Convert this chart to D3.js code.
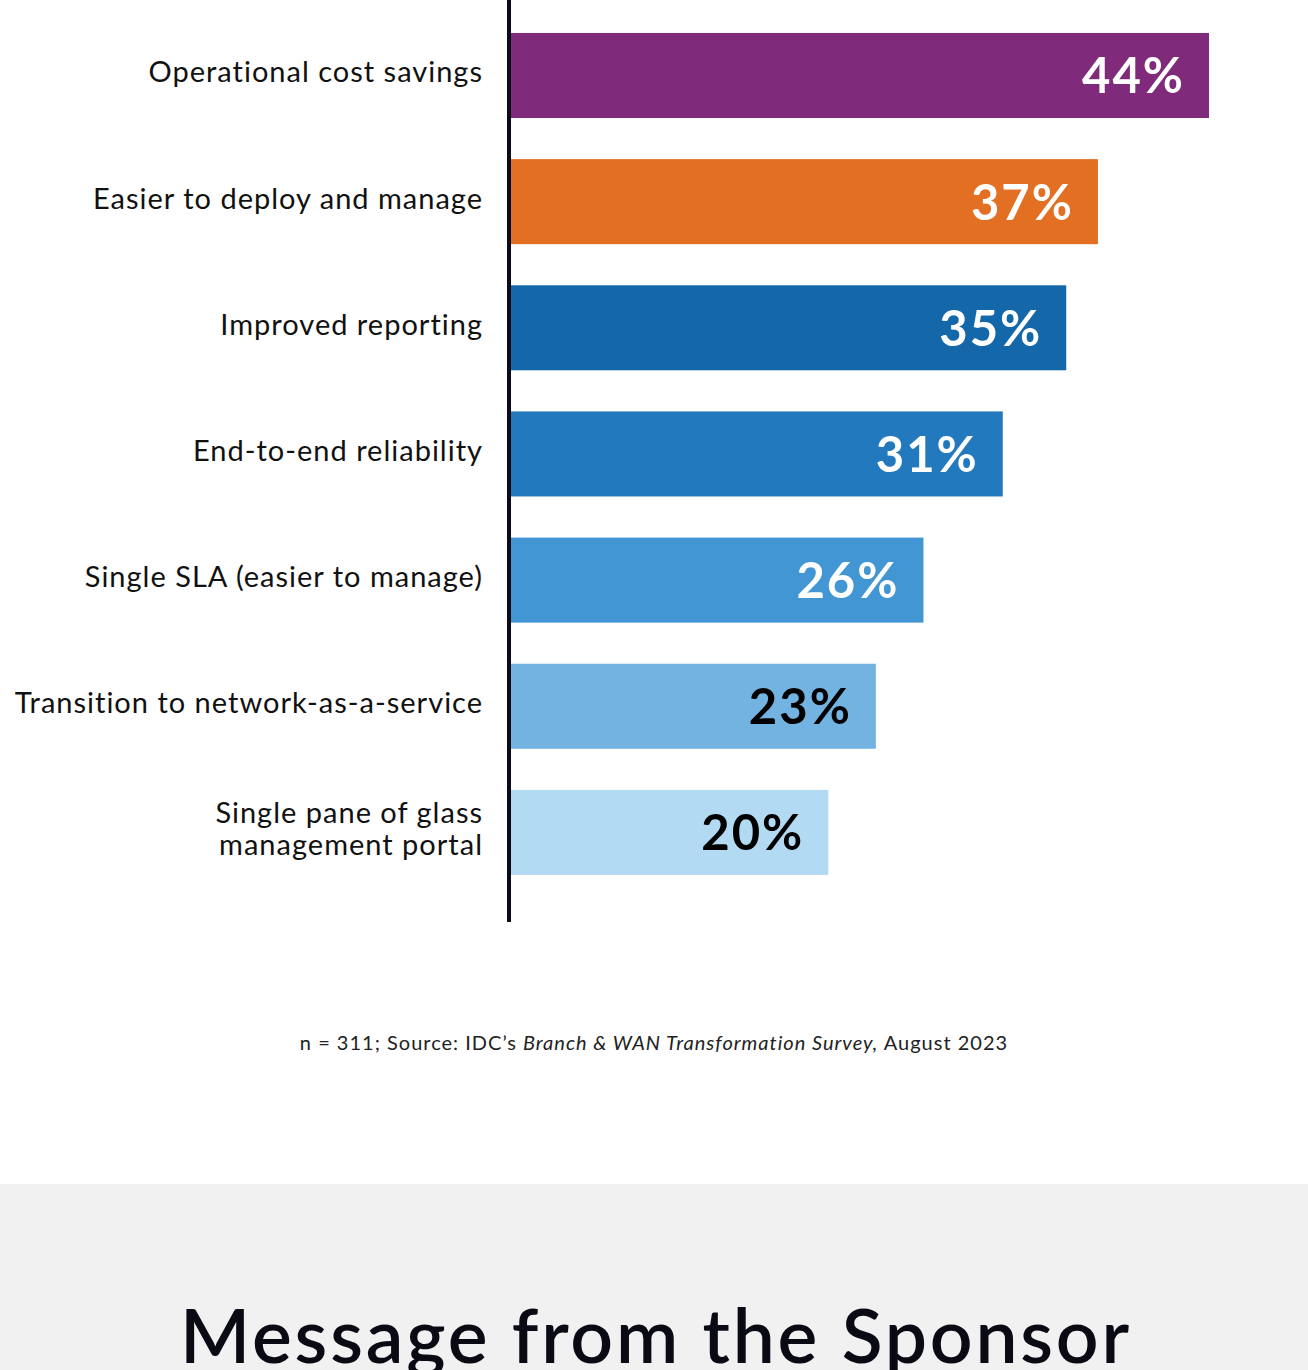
<!DOCTYPE html>
<html>
<head>
<meta charset="utf-8">
<script src="https://cdn.jsdelivr.net/npm/d3@7"></script>
<style>
  html, body { margin: 0; padding: 0; background: #fff; }
  svg { display: block; font-family: "Lato", "Noto Sans", sans-serif; font-variant-ligatures: none; }
</style>
</head>
<body>
<div id="chart"></div>
<script>
// Data
const categories = [
  ["Operational cost savings"],
  ["Easier to deploy and manage"],
  ["Improved reporting"],
  ["End-to-end reliability"],
  ["Single SLA (easier to manage)"],
  ["Transition to network-as-a-service"],
  ["Single pane of glass", "management portal"]
];
const values = [44, 37, 35, 31, 26, 23, 20];
const barColors = ["#7f2a7a", "#e36f22", "#1467a8", "#2279be", "#4296d3", "#72b3e2", "#b3daf3"];
const valueColors = ["#fff", "#fff", "#fff", "#fff", "#fff", "#000", "#000"];

const W = 1308, H = 1370;
const axisX = 511;

const svg = d3.select("#chart")
  .append("svg")
  .attr("width", W)
  .attr("height", H);

const rows = categories.map((c, i) => ({ label: c, value: values[i], idx: i }));

// Scales
const y = d3.scaleBand()
  .domain(rows.map(d => d.idx))
  .range([12.4, 895.5])
  .paddingInner(0.326)
  .paddingOuter(0.163);

const x = d3.scaleLinear()
  .domain([0, 44])
  .range([axisX, 1209]);

// Bars
svg.selectAll(".bar")
  .data(rows)
  .join("rect")
  .attr("class", "bar")
  .attr("x", x(0))
  .attr("y", d => y(d.idx))
  .attr("width", d => x(d.value) - x(0))
  .attr("height", y.bandwidth())
  .attr("fill", d => barColors[d.idx]);

// Value labels inside bars
svg.selectAll(".val")
  .data(rows)
  .join("text")
  .attr("class", "val")
  .attr("x", d => x(d.value) - 24)
  .attr("y", d => y(d.idx) + y.bandwidth() / 2 + 18)
  .attr("text-anchor", "end")
  .attr("fill", d => valueColors[d.idx])
  .style("font-size", "49px")
  .style("font-weight", "700")
  .style("letter-spacing", "2px")
  .text(d => d.value + "%");

// Category labels
const labels = svg.selectAll(".cat")
  .data(rows)
  .join("text")
  .attr("class", "cat")
  .attr("text-anchor", "end")
  .attr("fill", "#111")
  .style("font-size", "29px")
  .style("letter-spacing", "1px")
  .attr("transform", d => `translate(483,${y(d.idx) + y.bandwidth() / 2})`);

labels.selectAll("tspan")
  .data(d => d.label.map((t, j) => ({ t, j, n: d.label.length })))
  .join("tspan")
  .attr("x", 0)
  .attr("y", d => (d.j - (d.n - 1) / 2) * 32 + 7)
  .text(d => d.t);

// Vertical axis line
svg.append("line")
  .attr("x1", axisX - 2).attr("x2", axisX - 2)
  .attr("y1", 0).attr("y2", 922)
  .attr("stroke", "#0b0b1a")
  .attr("stroke-width", 4);

// Source note
const note = svg.append("text")
  .attr("x", 654)
  .attr("y", 1050)
  .attr("text-anchor", "middle")
  .attr("fill", "#222")
  .style("font-size", "20px")
  .style("letter-spacing", "1px");
note.append("tspan").text("n = 311; Source: IDC\u2019s ");
note.append("tspan").style("font-style", "italic").text("Branch & WAN Transformation Survey,");
note.append("tspan").text(" August 2023");

// Sponsor band
svg.append("rect")
  .attr("x", 0).attr("y", 1184)
  .attr("width", W).attr("height", H - 1184)
  .attr("fill", "#f1f1f1");

svg.append("text")
  .attr("x", 656)
  .attr("y", 1363)
  .attr("text-anchor", "middle")
  .attr("fill", "#0a0a14")
  .style("font-size", "75px")
  .style("font-weight", "600")
  .style("letter-spacing", "2.8px")
  .text("Message from the Sponsor");
</script>
</body>
</html>
